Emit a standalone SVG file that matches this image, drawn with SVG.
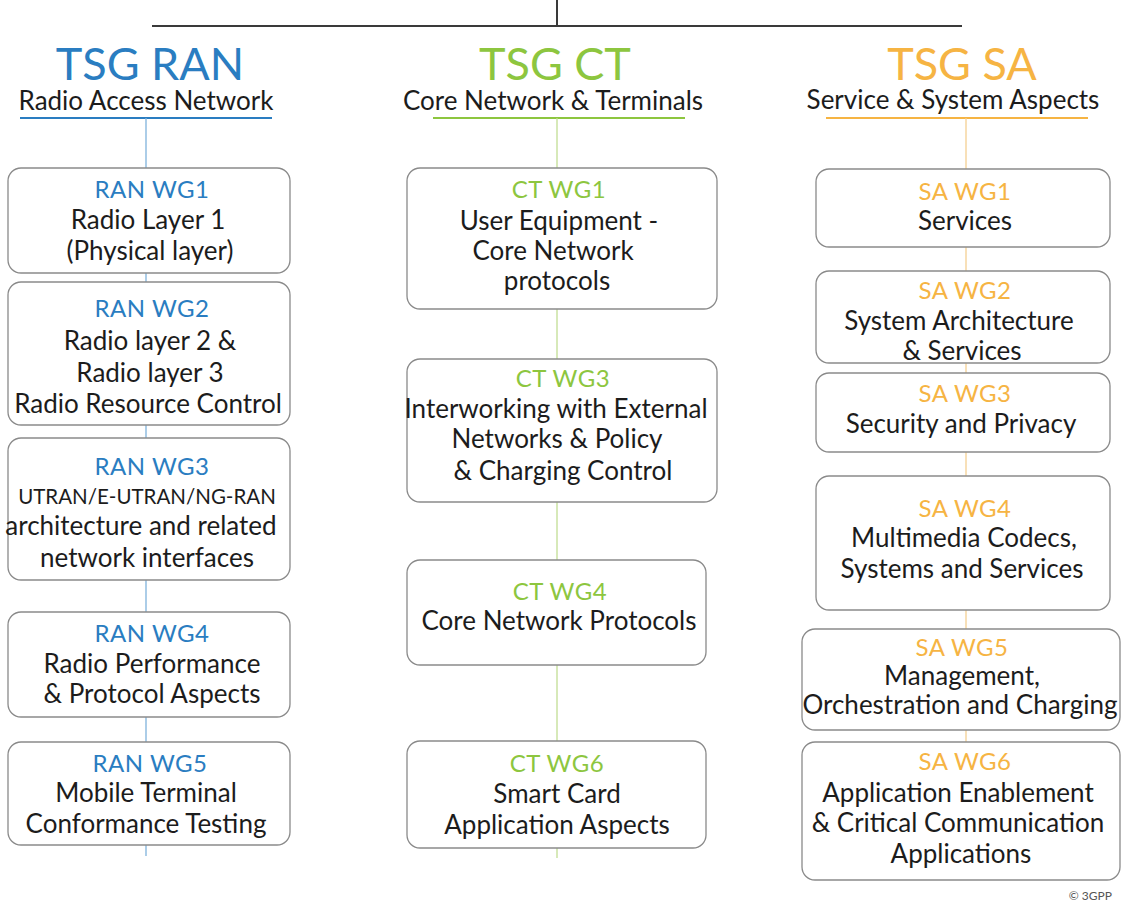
<svg xmlns="http://www.w3.org/2000/svg" width="1123" height="903" viewBox="0 0 1123 903">
  <style>
    text { font-family: Lato, "Open Sans", "Liberation Sans", sans-serif; text-anchor: middle; }
    .body { font-size: 26px; fill: #1c1c1c; }
    .title { font-size: 24px; letter-spacing: 0.5px; }
    .tsg { font-size: 45px; }
    .sub { font-size: 26px; fill: #1c1c1c; }
    .ran { fill: #2a7dc1; }
    .ct { fill: #8dc63f; }
    .sa { fill: #f6b443; }
    .box { fill: #ffffff; stroke: #8a8a8a; stroke-width: 1.3; }
    .small { font-size: 20.5px; fill: #1c1c1c; }
  </style>

  <rect width="1123" height="903" fill="#ffffff"/>

  <!-- connectors: top bar, header underlines and column spines -->
  <g id="connectors" fill="none">
    <path d="M152 26 H962 M557 0 V26" stroke="#3a3a3a" stroke-width="2"/>
    <line x1="20" y1="118" x2="272" y2="118" stroke="#2a7dc1" stroke-width="2"/>
    <line x1="433" y1="118" x2="685" y2="118" stroke="#8dc63f" stroke-width="2"/>
    <line x1="826" y1="118" x2="1088" y2="118" stroke="#f6b443" stroke-width="2"/>
    <line x1="146" y1="118" x2="146" y2="856" stroke="#7fb2dc" stroke-width="1.3"/>
    <line x1="557" y1="118" x2="557" y2="858" stroke="#c2dd94" stroke-width="1.3"/>
    <line x1="966" y1="118" x2="966" y2="742" stroke="#f4cf92" stroke-width="1.3"/>
  </g>

  <!-- group headers -->
  <g id="tsg-ran">
    <text x="150" y="80" class="tsg ran">TSG RAN</text>
    <text x="146" y="110" class="sub">Radio Access Network</text>
  </g>
  <g id="tsg-ct">
    <text x="555" y="80" class="tsg ct">TSG CT</text>
    <text x="553" y="110" class="sub">Core Network &amp; Terminals</text>
  </g>
  <g id="tsg-sa">
    <text x="962" y="80" class="tsg sa">TSG SA</text>
    <text x="953" y="109" class="sub">Service &amp; System Aspects</text>
  </g>

  <!-- RAN working groups -->
  <g id="ran-wg1">
    <rect class="box" x="8" y="168" width="282" height="105" rx="13"/>
    <text x="152" y="198" class="title ran">RAN WG1</text>
    <text x="148" y="229" class="body">Radio Layer 1</text>
    <text x="150" y="260" class="body">(Physical layer)</text>
  </g>
  <g id="ran-wg2">
    <rect class="box" x="8" y="282" width="282" height="143" rx="13"/>
    <text x="152" y="317" class="title ran">RAN WG2</text>
    <text x="150" y="350" class="body">Radio layer 2 &amp;</text>
    <text x="150" y="382" class="body">Radio layer 3</text>
    <text x="148" y="413" class="body">Radio Resource Control</text>
  </g>
  <g id="ran-wg3">
    <rect class="box" x="8" y="438" width="282" height="142" rx="13"/>
    <text x="152" y="475" class="title ran">RAN WG3</text>
    <text x="147" y="504" class="small">UTRAN/E-UTRAN/NG-RAN</text>
    <text x="141" y="535" class="body">architecture and related</text>
    <text x="147" y="567" class="body">network interfaces</text>
  </g>
  <g id="ran-wg4">
    <rect class="box" x="8" y="612" width="282" height="105" rx="13"/>
    <text x="152" y="642" class="title ran">RAN WG4</text>
    <text x="152" y="673" class="body">Radio Performance</text>
    <text x="152" y="703" class="body">&amp; Protocol Aspects</text>
  </g>
  <g id="ran-wg5">
    <rect class="box" x="8" y="742" width="282" height="103" rx="13"/>
    <text x="150" y="772" class="title ran">RAN WG5</text>
    <text x="146" y="802" class="body">Mobile Terminal</text>
    <text x="146" y="833" class="body">Conformance Testing</text>
  </g>

  <!-- CT working groups -->
  <g id="ct-wg1">
    <rect class="box" x="407" y="168" width="310" height="141" rx="13"/>
    <text x="559" y="198" class="title ct">CT WG1</text>
    <text x="559" y="230" class="body">User Equipment -</text>
    <text x="553" y="260" class="body">Core Network</text>
    <text x="557" y="290" class="body">protocols</text>
  </g>
  <g id="ct-wg3">
    <rect class="box" x="407" y="359" width="310" height="143" rx="13"/>
    <text x="563" y="387" class="title ct">CT WG3</text>
    <text x="556" y="418" class="body">Interworking with External</text>
    <text x="557" y="448" class="body">Networks &amp; Policy</text>
    <text x="563" y="480" class="body">&amp; Charging Control</text>
  </g>
  <g id="ct-wg4">
    <rect class="box" x="407" y="560" width="299" height="105" rx="13"/>
    <text x="560" y="600" class="title ct">CT WG4</text>
    <text x="559" y="630" class="body">Core Network Protocols</text>
  </g>
  <g id="ct-wg6">
    <rect class="box" x="407" y="741" width="299" height="107" rx="13"/>
    <text x="557" y="772" class="title ct">CT WG6</text>
    <text x="557" y="803" class="body">Smart Card</text>
    <text x="557" y="834" class="body">Application Aspects</text>
  </g>

  <!-- SA working groups -->
  <g id="sa-wg1">
    <rect class="box" x="816" y="169" width="294" height="78" rx="13"/>
    <text x="965" y="200" class="title sa">SA WG1</text>
    <text x="965" y="230" class="body">Services</text>
  </g>
  <g id="sa-wg2">
    <rect class="box" x="816" y="271" width="294" height="92" rx="13"/>
    <text x="965" y="299" class="title sa">SA WG2</text>
    <text x="959" y="330" class="body">System Architecture</text>
    <text x="962" y="360" class="body">&amp; Services</text>
  </g>
  <g id="sa-wg3">
    <rect class="box" x="816" y="373" width="294" height="79" rx="13"/>
    <text x="965" y="402" class="title sa">SA WG3</text>
    <text x="961" y="433" class="body">Security and Privacy</text>
  </g>
  <g id="sa-wg4">
    <rect class="box" x="816" y="476" width="294" height="134" rx="13"/>
    <text x="965" y="517" class="title sa">SA WG4</text>
    <text x="964" y="547" class="body">Multimedia Codecs,</text>
    <text x="962" y="578" class="body">Systems and Services</text>
  </g>
  <g id="sa-wg5">
    <rect class="box" x="802" y="629" width="318" height="101" rx="13"/>
    <text x="962" y="656" class="title sa">SA WG5</text>
    <text x="962" y="685" class="body">Management,</text>
    <text x="960" y="714" class="body">Orchestration and Charging</text>
  </g>
  <g id="sa-wg6">
    <rect class="box" x="802" y="742" width="318" height="138" rx="13"/>
    <text x="965" y="770" class="title sa">SA WG6</text>
    <text x="958" y="802" class="body">Application Enablement</text>
    <text x="958" y="832" class="body">&amp; Critical Communication</text>
    <text x="961" y="863" class="body">Applications</text>
  </g>

  <text x="1112" y="900" style="text-anchor:end;font-size:12px;fill:#555">© 3GPP</text>
</svg>
